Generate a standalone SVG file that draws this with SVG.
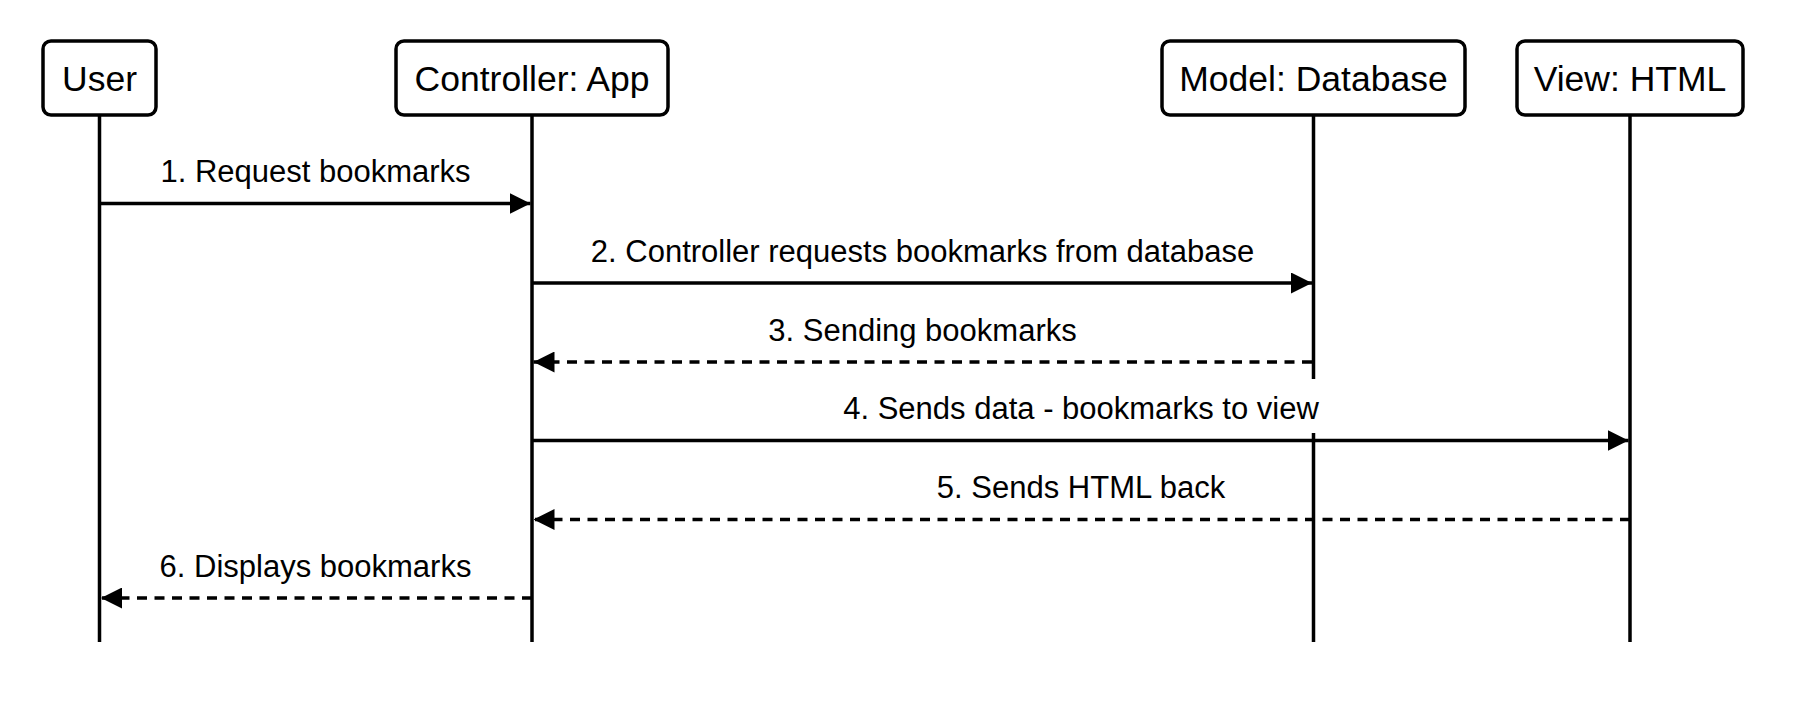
<svg xmlns="http://www.w3.org/2000/svg" width="1810" height="722" viewBox="0 0 1810 722">
<style>
.box{fill:#fff;stroke:#000;stroke-width:3.5}
.life{stroke:#000;stroke-width:3.5;fill:none}
.title{font-family:"Liberation Sans",Arial,sans-serif;font-size:35.5px;text-anchor:middle;fill:#000}
.lbl{font-family:"Liberation Sans",Arial,sans-serif;font-size:31px;text-anchor:middle;fill:#000}
.msg{stroke:#000;stroke-width:3.5;fill:none}
.dash{stroke-dasharray:10 7.5}
</style>
<defs>
<marker id="ah" viewBox="0 0 21 21" refX="21" refY="10.5" markerWidth="21" markerHeight="21" markerUnits="userSpaceOnUse" orient="auto">
<path d="M0,0 L21,10.5 L0,21 Z" fill="#000"/>
</marker>
</defs>
<rect width="1810" height="722" fill="#fff"/>
<g id="lifelines">
<line class="life" x1="99.5" y1="115" x2="99.5" y2="642"/>
<line class="life" x1="532" y1="115" x2="532" y2="642"/>
<line class="life" x1="1313.5" y1="115" x2="1313.5" y2="379"/>
<line class="life" x1="1313.5" y1="433" x2="1313.5" y2="642"/>
<line class="life" x1="1630" y1="115" x2="1630" y2="642"/>
</g>
<g id="user">
<rect class="box" x="43" y="41" width="113" height="74" rx="8"/>
<text class="title" x="99.5" y="91">User</text>
</g>
<g id="controller">
<rect class="box" x="396" y="41" width="272" height="74" rx="8"/>
<text class="title" x="532" y="91">Controller: App</text>
</g>
<g id="model">
<rect class="box" x="1162" y="41" width="303" height="74" rx="8"/>
<text class="title" x="1313.5" y="91">Model: Database</text>
</g>
<g id="view">
<rect class="box" x="1517" y="41" width="226" height="74" rx="8"/>
<text class="title" x="1630" y="91">View: HTML</text>
</g>
<g id="connectors">
<line class="msg" x1="99.5" y1="203.5" x2="530.5" y2="203.5" marker-end="url(#ah)"/>
<text class="lbl" x="315.5" y="182">1. Request bookmarks</text>
<line class="msg" x1="532" y1="283" x2="1312" y2="283" marker-end="url(#ah)"/>
<text class="lbl" x="922.5" y="261.5">2. Controller requests bookmarks from database</text>
<line class="msg dash" x1="1312" y1="362" x2="533.5" y2="362" marker-end="url(#ah)"/>
<text class="lbl" x="922.5" y="340.5">3. Sending bookmarks</text>
<line class="msg" x1="532" y1="440.5" x2="1628.5" y2="440.5" marker-end="url(#ah)"/>
<text class="lbl" x="1081" y="418.5">4. Sends data - bookmarks to view</text>
<line class="msg dash" x1="1630" y1="519.5" x2="533.5" y2="519.5" marker-end="url(#ah)"/>
<text class="lbl" x="1081" y="498">5. Sends HTML back</text>
<line class="msg dash" x1="532" y1="598" x2="101" y2="598" marker-end="url(#ah)"/>
<text class="lbl" x="315.5" y="576.5">6. Displays bookmarks</text>
</g>
</svg>
